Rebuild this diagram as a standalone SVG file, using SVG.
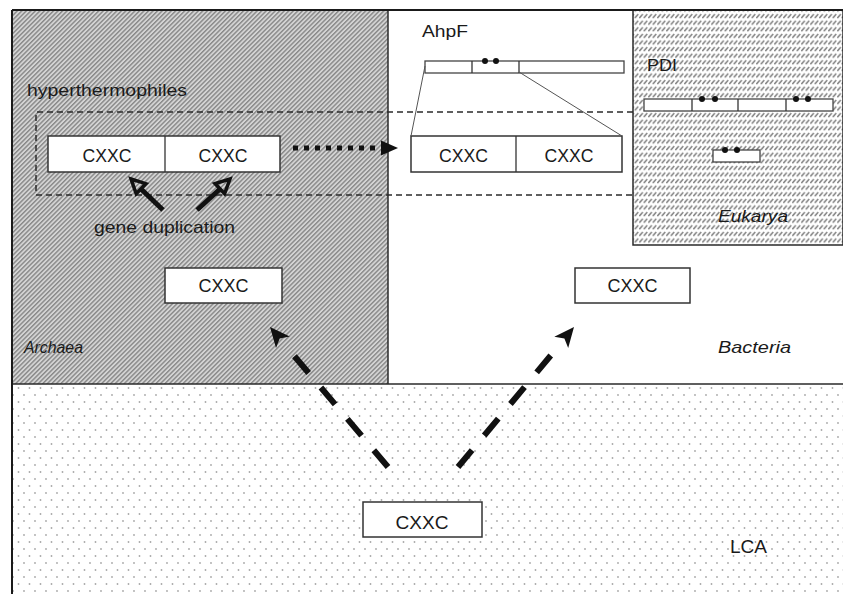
<svg xmlns="http://www.w3.org/2000/svg" width="843" height="594" viewBox="0 0 843 594">
<defs>
<pattern id="archHatch" patternUnits="userSpaceOnUse" width="3.2" height="3.2" patternTransform="rotate(45)">
<rect width="3.2" height="3.2" fill="#d4d4d4"/>
<rect width="1.4" height="3.2" fill="#878787"/>
</pattern>
<pattern id="eukHatch" patternUnits="userSpaceOnUse" width="4.5" height="6.6">
<rect width="4.5" height="6.6" fill="#ffffff"/>
<line x1="0.3" y1="4.8" x2="3.8" y2="1.0" stroke="#7e7e7e" stroke-width="1.5"/>
</pattern>
<pattern id="lcaDots" patternUnits="userSpaceOnUse" width="11" height="14">
<rect width="11" height="14" fill="#ffffff"/>
<circle cx="2" cy="3" r="0.9" fill="#a8a8a8"/>
<circle cx="7.5" cy="10" r="0.9" fill="#a8a8a8"/>
</pattern>
</defs>
<style>
.txt{font-family:"Liberation Sans",Arial,sans-serif;fill:#1a1a1a;}
.lbl{font-size:17px;}
.ital{font-size:17px;font-style:italic;}
.cx{font-size:18px;text-anchor:middle;}
.box{fill:#ffffff;stroke:#333333;stroke-width:1.5;}
.bar{fill:#ffffff;stroke:#444444;stroke-width:1.3;}
.div{stroke:#333333;stroke-width:1.3;}
.dot{fill:#111111;}
.border{fill:none;stroke:#2a2a2a;stroke-width:1.5;}
.thin{stroke:#555555;stroke-width:1;fill:none;}
.dash{stroke:#111111;stroke-width:6;stroke-dasharray:22 19;fill:none;}
.head{fill:#111111;}
</style>

<rect width="843" height="594" fill="#ffffff"/>

<g id="lca-region">
<rect x="12" y="384" width="831" height="210" fill="url(#lcaDots)"/>
<text class="txt" x="730" y="553" textLength="37" lengthAdjust="spacingAndGlyphs" style="font-size:18px">LCA</text>
</g>

<g id="archaea-region">
<rect x="12" y="10" width="376" height="374" fill="url(#archHatch)"/>
<text class="txt ital" x="24" y="353" textLength="59" lengthAdjust="spacingAndGlyphs">Archaea</text>
</g>

<g id="bacteria-region">
<rect x="388" y="10" width="455" height="374" fill="#ffffff"/>
<text class="txt ital" x="718" y="353" textLength="73" lengthAdjust="spacingAndGlyphs">Bacteria</text>
</g>

<g id="hyperthermophiles">
<path d="M633,112 H36 V195 H633" fill="none" stroke="#2a2a2a" stroke-width="1.5" stroke-dasharray="6 4"/>
<text class="txt lbl" x="27" y="96" textLength="160" lengthAdjust="spacingAndGlyphs">hyperthermophiles</text>
</g>

<g id="eukarya-region">
<rect x="633" y="10" width="210" height="235" fill="url(#eukHatch)" stroke="#2a2a2a" stroke-width="1.5"/>
<text class="txt ital" x="718" y="222" textLength="70" lengthAdjust="spacingAndGlyphs">Eukarya</text>
</g>

<g id="frame">
<line x1="388" y1="10" x2="388" y2="384" class="border"/>
<line x1="12" y1="384" x2="843" y2="384" class="border"/>
<line x1="12" y1="10" x2="843" y2="10" stroke="#1a1a1a" stroke-width="2.2"/>
<line x1="12" y1="10" x2="12" y2="594" stroke="#1a1a1a" stroke-width="2"/>
</g>

<g id="archaea-double-cxxc">
<rect x="48" y="136" width="232" height="36" class="box"/>
<line x1="165" y1="136" x2="165" y2="172" class="div"/>
<text class="txt cx" x="107" y="162" textLength="49" lengthAdjust="spacingAndGlyphs">CXXC</text>
<text class="txt cx" x="223" y="162" textLength="49" lengthAdjust="spacingAndGlyphs">CXXC</text>
</g>

<g id="gene-duplication-label">
<text class="txt lbl" x="94" y="233" textLength="141" lengthAdjust="spacingAndGlyphs">gene duplication</text>
</g>

<g id="archaea-cxxc">
<rect x="165" y="268" width="117" height="35" class="box"/>
<text class="txt cx" x="223.5" y="292" textLength="50" lengthAdjust="spacingAndGlyphs">CXXC</text>
</g>

<g id="bacteria-cxxc">
<rect x="575" y="268" width="115" height="35" class="box"/>
<text class="txt cx" x="632.5" y="292" textLength="50" lengthAdjust="spacingAndGlyphs">CXXC</text>
</g>

<g id="lca-cxxc">
<rect x="363" y="502" width="119" height="35" class="box"/>
<text class="txt cx" x="422" y="529" textLength="53" lengthAdjust="spacingAndGlyphs">CXXC</text>
</g>

<g id="ahpf">
<text class="txt lbl" x="422" y="37" textLength="46" lengthAdjust="spacingAndGlyphs">AhpF</text>
<rect x="425" y="61" width="199" height="12" class="bar"/>
<line x1="472" y1="61" x2="472" y2="73" class="div"/>
<line x1="519" y1="61" x2="519" y2="73" class="div"/>
<circle cx="485" cy="61" r="3" class="dot"/>
<circle cx="496" cy="61" r="3" class="dot"/>
</g>

<g id="bacteria-double-cxxc">
<rect x="411" y="136" width="211" height="36" class="box"/>
<line x1="516" y1="136" x2="516" y2="172" class="div"/>
<text class="txt cx" x="463.5" y="162" textLength="49" lengthAdjust="spacingAndGlyphs">CXXC</text>
<text class="txt cx" x="569" y="162" textLength="49" lengthAdjust="spacingAndGlyphs">CXXC</text>
</g>

<g id="pdi">
<text class="txt lbl" x="647" y="71" textLength="30" lengthAdjust="spacingAndGlyphs">PDI</text>
<rect x="644" y="99" width="189" height="12" class="bar"/>
<line x1="692" y1="99" x2="692" y2="111" class="div"/>
<line x1="738" y1="99" x2="738" y2="111" class="div"/>
<line x1="786" y1="99" x2="786" y2="111" class="div"/>
<circle cx="702" cy="99" r="3" class="dot"/>
<circle cx="715" cy="99" r="3" class="dot"/>
<circle cx="796" cy="99" r="3" class="dot"/>
<circle cx="808" cy="99" r="3" class="dot"/>
</g>

<g id="pdi-small">
<rect x="713" y="150" width="47" height="12" class="bar"/>
<circle cx="725" cy="150" r="3" class="dot"/>
<circle cx="737" cy="150" r="3" class="dot"/>
</g>

<g id="connectors">
<line x1="425" y1="66" x2="411" y2="136" class="thin"/>
<line x1="519" y1="72" x2="622" y2="136" class="thin"/>

<line x1="293" y1="148" x2="383" y2="148" stroke="#111111" stroke-width="5" stroke-dasharray="5 6"/>
<polygon points="398,148 381,140.5 381,155.5" class="head"/>

<line x1="163" y1="210" x2="141" y2="189" stroke="#111111" stroke-width="5"/>
<polygon points="131,179 145.9,183.7 136.2,193.8" fill="none" stroke="#111111" stroke-width="3.5" stroke-linejoin="miter"/>
<line x1="197" y1="210" x2="220" y2="189" stroke="#111111" stroke-width="5"/>
<polygon points="230,179 224.6,193.7 215.0,183.5" fill="none" stroke="#111111" stroke-width="3.5" stroke-linejoin="miter"/>

<line x1="388" y1="467" x2="285" y2="345" class="dash"/>
<polygon points="270,327 289.8,336.5 279.7,338.5 276.0,348.1" class="head"/>
<line x1="458" y1="467" x2="562" y2="342" class="dash"/>
<polygon points="574,327 568.2,348.1 564.4,338.6 554.3,336.7" class="head"/>
</g>
</svg>
